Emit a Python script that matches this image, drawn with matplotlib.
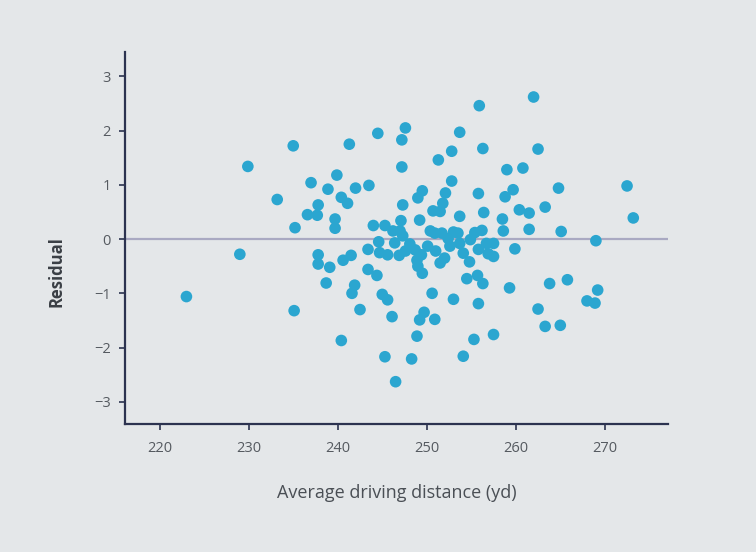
import numpy as np
import matplotlib
matplotlib.use("Agg")
import matplotlib.pyplot as plt

# average driving distance (yd) and residuals
distance = [
    235.0, 229.9, 237.0, 238.9, 239.9, 233.2, 237.8, 236.6, 237.7, 235.2,
    239.7, 239.7, 255.9, 247.6, 247.2, 244.5, 241.3, 253.7, 256.3, 252.8,
    251.3, 247.2, 242.0, 243.5, 252.8, 255.8, 240.4, 241.1, 249.5, 249.0,
    252.1, 251.8, 251.5, 250.7, 247.3, 256.4, 253.7, 249.2, 244.0, 245.3,
    247.1, 247.0, 256.2, 262.0, 262.5, 259.0, 260.8, 272.5, 264.8, 259.7,
    258.8, 263.3, 260.4, 261.5, 273.2, 258.5, 258.6, 261.5, 265.1, 269.0,
    229.0, 223.0, 235.1, 237.8, 237.8, 239.1, 238.7, 240.4, 240.6, 241.5,
    243.4, 244.7, 245.6, 243.4, 244.4, 241.9, 241.6, 245.0, 245.6, 242.5,
    246.1, 245.3, 248.3, 246.5, 250.6, 248.9, 249.7, 249.2, 250.9, 253.0,
    254.5, 255.7, 256.3, 255.8, 255.3, 257.5, 254.1, 251.5, 249.0, 249.5,
    259.3, 263.8, 265.8, 262.5, 263.3, 265.0, 269.2, 268.0, 268.9, 259.9,
    257.5, 257.5, 247.3, 248.1, 247.6, 248.7, 249.4, 248.9, 250.1, 250.9,
    252.4, 252.6, 253.5, 253.7, 254.1, 254.9, 255.4, 255.8, 256.7, 256.9,
    246.4, 250.4, 251.7, 253.0, 246.2, 244.6, 246.9, 251.0, 252.0, 254.8,
]
residual = [
    1.72, 1.34, 1.04, 0.92, 1.18, 0.73, 0.63, 0.45, 0.44, 0.21,
    0.37, 0.20, 2.46, 2.05, 1.83, 1.95, 1.75, 1.97, 1.67, 1.62,
    1.46, 1.33, 0.94, 0.99, 1.07, 0.84, 0.77, 0.66, 0.89, 0.76,
    0.85, 0.66, 0.51, 0.52, 0.63, 0.49, 0.42, 0.35, 0.25, 0.25,
    0.34, 0.15, 0.16, 2.62, 1.66, 1.28, 1.31, 0.98, 0.94, 0.91,
    0.78, 0.59, 0.54, 0.48, 0.39, 0.37, 0.15, 0.18, 0.14, -0.03,
    -0.28, -1.06, -1.32, -0.29, -0.46, -0.52, -0.81, -1.87, -0.39, -0.30,
    -0.19, -0.25, -0.29, -0.56, -0.67, -0.85, -1.00, -1.02, -1.12, -1.30,
    -1.43, -2.17, -2.21, -2.63, -1.00, -1.79, -1.35, -1.49, -1.48, -1.11,
    -0.73, -0.67, -0.82, -1.19, -1.85, -1.76, -2.16, -0.44, -0.50, -0.63,
    -0.90, -0.82, -0.75, -1.29, -1.61, -1.59, -0.94, -1.14, -1.18, -0.18,
    -0.08, -0.32, 0.06, -0.09, -0.22, -0.20, -0.29, -0.39, -0.13, 0.11,
    0.01, -0.13, 0.11, -0.08, -0.26, -0.01, 0.12, -0.19, -0.08, -0.27,
    -0.07, 0.15, 0.11, 0.13, 0.15, -0.05, -0.30, -0.22, -0.35, -0.42,
]
x_ticks = [220, 230, 240, 250, 260, 270]
y_ticks = [-3, -2, -1, 0, 1, 2, 3]

plt.rcParams['font.family'] = ['Open Sans', 'DejaVu Sans']

fig = plt.figure(figsize=(7.56, 5.52), dpi=100, facecolor='#e4e7e9')
# axes box in figure fractions (left, bottom, width, height)
ax = fig.add_axes([125/756, 1 - 424/552, 543/756, 372/552])
ax.set_facecolor('#e4e7e9')

ax.axhline(0, color='#a9a9c2', lw=1.6, zorder=1)
ax.scatter(distance, residual, s=70, color='#2ba6d0', edgecolors='none', zorder=3)

ax.set_xlim(216.1, 277.1)
ax.set_ylim(-3.41, 3.45)
ax.set_xticks(x_ticks)
ax.set_yticks(y_ticks)
ax.set_yticklabels([str(v).replace('-', '\u2212') for v in y_ticks])

for s in ['top', 'right']:
    ax.spines[s].set_visible(False)
for s in ['left', 'bottom']:
    ax.spines[s].set_color('#2c3350')
    ax.spines[s].set_linewidth(1.6)

ax.tick_params(axis='both', direction='out', length=4, width=1.2, color='#2c3350',
               labelcolor='#555a60', labelsize=10.5)
ax.tick_params(axis='x', pad=8)
ax.tick_params(axis='y', pad=6)

ax.set_xlabel('Average driving distance (yd)', fontsize=13, color='#4a4f55')
ax.xaxis.set_label_coords(0.5, -0.16)
ax.set_ylabel('Residual', fontsize=12, fontweight='bold', color='#3a3f45')
ax.yaxis.set_label_coords(-0.11, 0.41)

fig.savefig('out.png', dpi=100, facecolor=fig.get_facecolor())
